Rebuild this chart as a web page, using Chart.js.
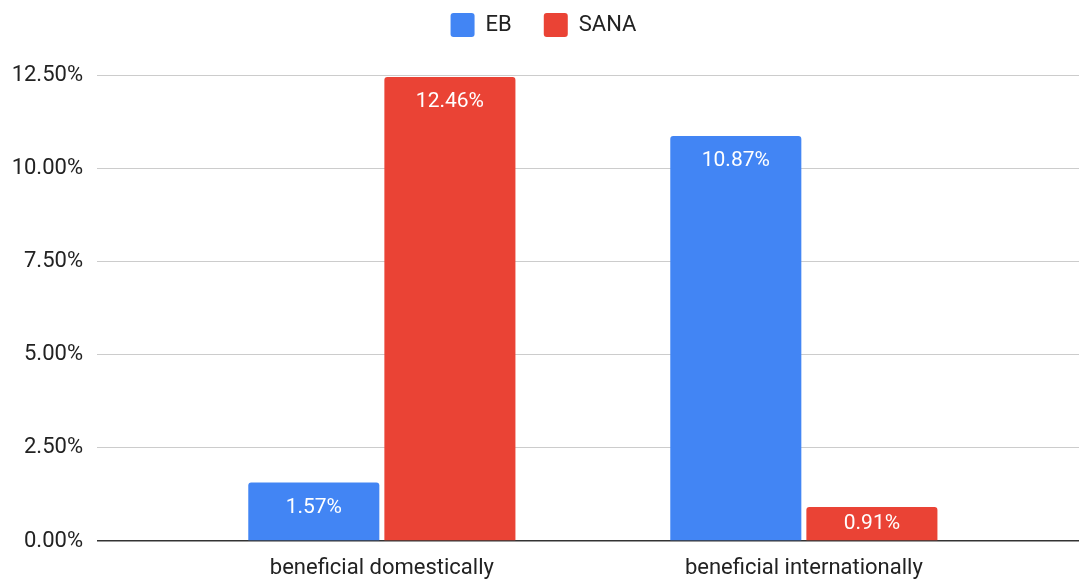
<!DOCTYPE html>
<html>
<head>
<meta charset="utf-8">
<script src="https://cdn.jsdelivr.net/npm/chart.js@4/dist/chart.umd.min.js"></script>
<style>
    html, body { margin: 0; padding: 0; background: #fff; }
    #wrap { width: 1079px; height: 579px; }
</style>
</head>
<body>
<div id="wrap"><canvas id="chart"></canvas></div>
<script>
const categories = ['beneficial domestically', 'beneficial internationally'];
const seriesNames = ['EB', 'SANA'];
const ebValues = [1.57, 10.87];
const sanaValues = [12.46, 0.91];
const yTicks = [0, 2.5, 5, 7.5, 10, 12.5];

const BLUE = '#4285F4';
const RED = '#EA4335';
const FONT = 'Roboto, Arial, sans-serif';

const toPoints = values => values.map((v, i) => ({ x: i, y: v }));

const barLabels = {
    id: 'barLabels',
    afterDatasetsDraw(chart) {
        const { ctx } = chart;
        ctx.save();
        ctx.fillStyle = '#ffffff';
        ctx.font = '21px ' + FONT;
        ctx.textAlign = 'center';
        ctx.textBaseline = 'middle';
        chart.data.datasets.forEach((ds, i) => {
            chart.getDatasetMeta(i).data.forEach((bar, j) => {
                // short bars get the label centred
                const y = Math.min(bar.y + 25, (bar.y + bar.base) / 2);
                ctx.fillText(ds.data[j].y.toFixed(2) + '%', bar.x, y);
            });
        });
        ctx.restore();
    },
};

new Chart(document.getElementById('chart'), {
    type: 'bar',
    data: {
        datasets: [
            { label: seriesNames[0], data: toPoints(ebValues), backgroundColor: BLUE },
            { label: seriesNames[1], data: toPoints(sanaValues), backgroundColor: RED },
        ],
    },
    options: {
        responsive: true,
        maintainAspectRatio: false,
        animation: false,
        categoryPercentage: 0.645,
        barPercentage: 0.963,
        borderRadius: { topLeft: 3, topRight: 3 },
        borderSkipped: 'start',
        layout: {
            padding: { left: 8, right: 0, top: -19, bottom: 0 },
        },
        plugins: {
            legend: {
                position: 'top',
                labels: {
                    boxWidth: 24,
                    boxHeight: 24,
                    useBorderRadius: true,
                    borderRadius: 3,
                    padding: 32,
                    color: '#222222',
                    font: { family: FONT, size: 22 },
                },
            },
            // empty spacer between legend and plot
            subtitle: {
                display: true,
                text: '',
                weight: 500,
                font: { size: 12 },
                padding: { top: 0, bottom: 14 },
            },
            tooltip: { enabled: false },
        },
        scales: {
            x: {
                type: 'linear',
                offset: false,
                min: -0.675,
                max: 1.652,
                afterBuildTicks(scale) {
                    scale.ticks = categories.map((c, i) => ({ value: i }));
                },
                afterFit(scale) {
                    scale.height = 38;
                },
                grid: { display: false },
                border: { display: false },
                ticks: {
                    color: '#222222',
                    padding: 6,
                    maxRotation: 0,
                    autoSkip: false,
                    font: { family: FONT, size: 22 },
                    callback: v => categories[v],
                },
            },
            y: {
                min: 0,
                max: 12.5,
                afterFit(scale) {
                    scale.width = 89;
                    scale.paddingBottom = 0;
                },
                afterBuildTicks(scale) {
                    scale.ticks = yTicks.map(v => ({ value: v }));
                },
                grid: {
                    drawTicks: false,
                    color: c => (c.tick && c.tick.value === 0 ? '#333333' : '#cccccc'),
                    lineWidth: c => (c.tick && c.tick.value === 0 ? 1.5 : 1),
                },
                border: { display: false },
                ticks: {
                    color: '#222222',
                    padding: 14,
                    font: { family: FONT, size: 22 },
                    callback: v => v.toFixed(2) + '%',
                },
            },
        },
    },
    plugins: [barLabels],
});
</script>
</body>
</html>
